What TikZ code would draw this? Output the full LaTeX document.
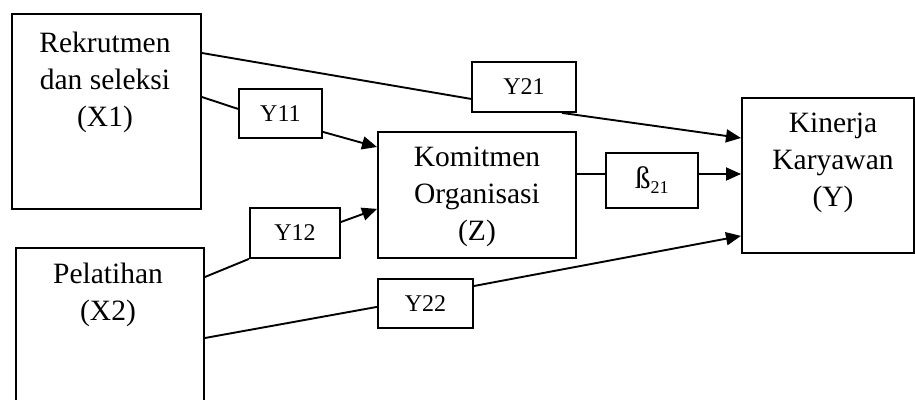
\documentclass[tikz,border=0pt]{standalone}
\usepackage{fontspec}
\setmainfont{Liberation Serif}
\usetikzlibrary{arrows.meta}

\begin{document}
\begin{tikzpicture}[x=1pt,y=-1pt,
  frame/.style={draw, line width=1.9pt, inner sep=0pt, anchor=north west},
  bigtext/.style={inner sep=0pt, align=center, font=\fontsize{29.5}{37}\selectfont},
  coef/.style={frame, font=\fontsize{24}{26}\selectfont},
  link/.style={line width=1.9pt},
  arrowlink/.style={link, -{Triangle[length=15pt,width=13pt]}}
]
\clip (0,0) rectangle (915,399);
\fill[white] (0,0) rectangle (915,399);

% variable boxes
\node[frame, minimum width=189pt, minimum height=195pt] (x1) at (11,13) {};
\node[frame, minimum width=188pt, minimum height=170pt] (x2) at (15,247) {};
\node[frame, minimum width=198pt, minimum height=126pt] (z)  at (377,131) {};
\node[frame, minimum width=172pt, minimum height=155pt] (ky) at (741,97) {};

\node[bigtext] (x1t) at (105,82)  {Rekrutmen\\dan seleksi\\(X1)};
\node[bigtext] (x2t) at (108,295) {Pelatihan\\(X2)};
\node[bigtext] (zt)  at (477,197) {Komitmen\\Organisasi\\(Z)};
\node[bigtext] (kyt) at (833,163) {Kinerja\\Karyawan\\(Y)};

% path coefficient boxes
\node[coef, minimum width=83pt,  minimum height=49pt] (y11) at (238,88)  {Y11};
\node[coef, minimum width=104pt, minimum height=50pt] (y21) at (471,61)  {Y21};
\node[coef, minimum width=90pt,  minimum height=50pt] (y12) at (249,207) {Y12};
\node[coef, minimum width=95pt,  minimum height=49pt] (y22) at (377,278) {Y22};
\node[coef, minimum width=92pt,  minimum height=55pt] (b21) at (605,152)
  {{\fontsize{31}{32}\selectfont ß}{\fontsize{18}{20}\selectfont\raisebox{-5pt}{21}}};

% X1 -> Y
\draw[link] ([yshift=-40pt]x1.north east) -- ([yshift=14pt]y21.south west);
\draw[arrowlink] ([xshift=-15pt]y21.south east) -- ([yshift=-41pt]ky.north west);
% X1 -> Z
\draw[link] ([yshift=-84pt]x1.north east) -- ([yshift=30pt]y11.south west);
\draw[arrowlink] ([yshift=7pt]y11.south east) -- ([yshift=-16pt]z.north west);
% X2 -> Z
\draw[link] ([yshift=-30pt]x2.north east) -- (y12.south west);
\draw[arrowlink] ([yshift=-15pt]y12.north east) -- ([yshift=50pt]z.south west);
% X2 -> Y
\draw[link] ([yshift=-91pt]x2.north east) -- ([yshift=22pt]y22.south west);
\draw[arrowlink] ([yshift=-8pt]y22.north east) -- ([yshift=18pt]ky.south west);
% Z -> Y
\draw[link] ([yshift=-43pt]z.north east) -- ([yshift=-22pt]b21.north west);
\draw[arrowlink] ([yshift=-22pt]b21.north east) -- ([yshift=-77pt]ky.north west);
\end{tikzpicture}
\end{document}
